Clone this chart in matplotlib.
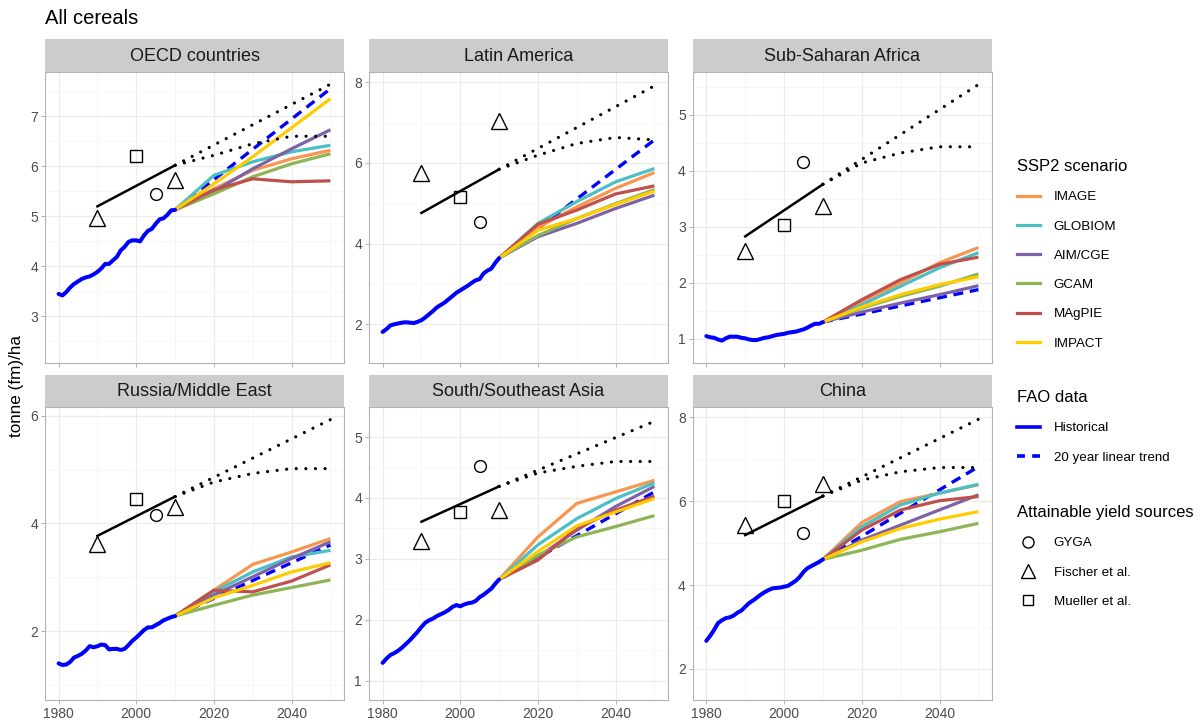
import matplotlib
matplotlib.use("Agg")
import matplotlib.pyplot as plt
from matplotlib.lines import Line2D
from matplotlib.ticker import MultipleLocator, FixedLocator
import numpy as np

plt.rcParams['font.family'] = ['Liberation Sans', 'DejaVu Sans']

# ---------------- data ----------------
regions = ["OECD countries", "Latin America", "Sub-Saharan Africa",
           "Russia/Middle East", "South/Southeast Asia", "China"]

hist_years = list(range(1980, 2011))
hist_oecd = [3.45, 3.42, 3.49, 3.58, 3.65, 3.70, 3.75, 3.78, 3.80, 3.84, 3.89, 3.96, 4.05, 4.05, 4.12, 4.19,
             4.32, 4.39, 4.49, 4.52, 4.52, 4.50, 4.62, 4.71, 4.75, 4.85, 4.94, 4.96, 5.03, 5.12, 5.13]
hist_latam = [1.81, 1.88, 1.97, 2.00, 2.02, 2.04, 2.05, 2.04, 2.03, 2.06, 2.10, 2.17, 2.25, 2.33, 2.42, 2.48,
              2.54, 2.62, 2.70, 2.78, 2.84, 2.90, 2.96, 3.03, 3.09, 3.12, 3.26, 3.33, 3.38, 3.52, 3.64]
hist_ssa = [1.05, 1.03, 1.02, 0.99, 0.97, 1.01, 1.04, 1.04, 1.04, 1.02, 1.01, 0.99, 0.98, 0.98, 1.00, 1.02,
            1.03, 1.05, 1.07, 1.08, 1.09, 1.11, 1.12, 1.13, 1.15, 1.17, 1.20, 1.24, 1.27, 1.27, 1.30]
hist_rme = [1.40, 1.37, 1.38, 1.43, 1.51, 1.54, 1.58, 1.64, 1.72, 1.70, 1.72, 1.75, 1.74, 1.66, 1.67, 1.67,
            1.65, 1.67, 1.74, 1.82, 1.88, 1.95, 2.02, 2.07, 2.07, 2.11, 2.15, 2.20, 2.23, 2.26, 2.28]
hist_ssea = [1.29, 1.36, 1.42, 1.45, 1.49, 1.54, 1.60, 1.66, 1.73, 1.80, 1.88, 1.95, 1.99, 2.02, 2.06, 2.09,
             2.12, 2.16, 2.21, 2.24, 2.22, 2.25, 2.27, 2.28, 2.31, 2.37, 2.41, 2.46, 2.51, 2.59, 2.66]
hist_china = [2.67, 2.79, 2.93, 3.09, 3.16, 3.21, 3.23, 3.27, 3.34, 3.39, 3.48, 3.57, 3.63, 3.70, 3.77, 3.83,
              3.88, 3.92, 3.93, 3.94, 3.96, 3.98, 4.04, 4.10, 4.19, 4.31, 4.40, 4.45, 4.50, 4.55, 4.61]
hist_all = [hist_oecd, hist_latam, hist_ssa, hist_rme, hist_ssea, hist_china]

# 20-year linear trend (2010 -> 2050)
trend_years = [2010, 2050]
trend_end = [7.55, 6.57, 1.88, 3.60, 4.10, 6.82]

# SSP2 model projections, years 2010..2050
model_years = [2010, 2020, 2030, 2040, 2050]
models = ["IMAGE", "GLOBIOM", "AIM/CGE", "GCAM", "MAgPIE", "IMPACT"]
model_colors = ["#F8964F", "#4BBFC4", "#7E62A8", "#8DB556", "#C0504D", "#FFCC00"]
image_vals = [[5.13, 5.55, 5.92, 6.15, 6.32], [3.64, 4.40, 4.91, 5.37, 5.76], [1.30, 1.67, 2.00, 2.36, 2.63],
              [2.28, 2.76, 3.24, 3.47, 3.72], [2.66, 3.36, 3.91, 4.10, 4.29], [4.61, 5.49, 5.99, 6.19, 6.39]]
globiom_vals = [[5.13, 5.82, 6.09, 6.29, 6.42], [3.64, 4.50, 5.04, 5.53, 5.86], [1.30, 1.61, 1.94, 2.27, 2.54],
                [2.28, 2.73, 3.10, 3.38, 3.50], [2.66, 3.23, 3.66, 3.99, 4.25], [4.61, 5.39, 5.91, 6.19, 6.40]]
aim_vals = [[5.13, 5.50, 5.95, 6.35, 6.73], [3.64, 4.17, 4.50, 4.87, 5.20], [1.30, 1.48, 1.64, 1.79, 1.95],
            [2.28, 2.67, 3.01, 3.35, 3.66], [2.66, 3.03, 3.47, 3.86, 4.19], [4.61, 5.07, 5.43, 5.79, 6.15]]
gcam_vals = [[5.13, 5.45, 5.79, 6.05, 6.25], [3.64, 4.20, 4.62, 4.99, 5.34], [1.30, 1.55, 1.76, 1.94, 2.16],
             [2.28, 2.48, 2.67, 2.81, 2.95], [2.66, 3.06, 3.36, 3.53, 3.71], [4.61, 4.83, 5.09, 5.27, 5.47]]
magpie_vals = [[5.13, 5.53, 5.75, 5.69, 5.71], [3.64, 4.48, 4.83, 5.23, 5.43], [1.30, 1.70, 2.06, 2.33, 2.46],
               [2.28, 2.76, 2.73, 2.93, 3.23], [2.66, 2.98, 3.50, 3.80, 4.03], [4.61, 5.31, 5.79, 6.01, 6.11]]
impact_vals = [[5.13, 5.65, 6.19, 6.77, 7.35], [3.64, 4.33, 4.62, 4.97, 5.30], [1.30, 1.57, 1.79, 1.97, 2.11],
               [2.28, 2.62, 2.85, 3.10, 3.27], [2.66, 3.12, 3.54, 3.77, 3.99], [4.61, 5.03, 5.35, 5.57, 5.75]]
model_vals = [image_vals, globiom_vals, aim_vals, gcam_vals, magpie_vals, impact_vals]

# attainable yield: fitted line 1990-2010 and extrapolations 2010-2050
fit_years = [1990, 2010]
fit_1990 = [5.20, 4.76, 2.83, 3.77, 3.61, 5.19]
fit_2010 = [6.02, 5.84, 3.76, 4.50, 4.19, 6.12]
linear_2050 = [7.64, 7.91, 5.54, 5.93, 5.26, 7.95]
sat_years = [2010, 2020, 2030, 2040, 2050]
sat_vals = [[6.02, 6.22, 6.45, 6.60, 6.60], [5.84, 6.19, 6.48, 6.63, 6.57], [3.76, 4.14, 4.32, 4.43, 4.43],
            [4.50, 4.77, 4.93, 5.02, 5.02], [4.19, 4.41, 4.52, 4.60, 4.60], [6.12, 6.50, 6.70, 6.80, 6.80]]

# attainable yield sources
gyga_year = 2005
gyga_vals = [5.45, 4.54, 4.15, 4.15, 4.52, 5.23]
fischer_years = [1990, 2010]
fischer_vals = [[4.97, 5.73], [5.76, 7.05], [2.57, 3.38], [3.62, 4.31], [3.30, 3.81], [5.43, 6.41]]
mueller_year = 2000
mueller_vals = [6.20, 5.16, 3.04, 4.45, 3.77, 6.01]

ylims = [(2.07, 7.89), (1.04, 8.26), (0.57, 5.77), (0.72, 6.17), (0.68, 5.50), (1.26, 8.25)]
ymajor = [1, 2, 1, 2, 1, 2]

# ---------------- figure ----------------
W, H = 1204, 722
fig = plt.figure(figsize=(W / 100, H / 100), dpi=100)

cols = [(45, 344), (369, 668), (692.7, 992)]
rows = [(39, 71.7, 363), (375, 406.7, 700)]

grid_major = "#EBEBEB"
grid_minor = "#F5F5F5"
border = "#B3B3B3"
tick_col = "#4D4D4D"

dot_style = (0, (0.01, 3.0))

for i, reg in enumerate(regions):
    r, c = divmod(i, 3)
    x0, x1 = cols[c]
    st, pt, pb = rows[r]
    ax = fig.add_axes([x0 / W, 1 - pb / H, (x1 - x0) / W, (pb - pt) / H])
    sax = fig.add_axes([x0 / W, 1 - pt / H, (x1 - x0) / W, (pt - st) / H])
    sax.set_facecolor("#CCCCCC")
    sax.set_xticks([]); sax.set_yticks([])
    for s in sax.spines.values():
        s.set_visible(False)
    sax.text(0.5, 0.47, reg, ha="center", va="center", fontsize=13, color="#1A1A1A",
             transform=sax.transAxes)

    ax.set_xlim(1976.5, 2053.5)
    ax.set_ylim(*ylims[i])
    ax.xaxis.set_major_locator(FixedLocator([1980, 2000, 2020, 2040]))
    ax.xaxis.set_minor_locator(FixedLocator([1990, 2010, 2030, 2050]))
    ax.yaxis.set_major_locator(MultipleLocator(ymajor[i]))
    ax.yaxis.set_minor_locator(MultipleLocator(ymajor[i] / 2))
    ax.grid(True, which="major", color=grid_major, lw=0.9, zorder=0)
    ax.grid(True, which="minor", color=grid_minor, lw=0.6, zorder=0)
    ax.set_axisbelow(True)
    for s in ax.spines.values():
        s.set_color(border); s.set_linewidth(0.8)
    ax.tick_params(which="major", length=3, width=0.7, color=border, labelsize=10,
                   labelcolor=tick_col, pad=2)
    ax.tick_params(which="minor", length=0)
    if r == 0:
        ax.tick_params(axis="x", labelbottom=False)

    # trend (under models)
    ax.plot(trend_years, [hist_all[i][-1], trend_end[i]], color="#0000FF", lw=2.4,
            linestyle=(0, (3, 2)), zorder=3)
    # models
    for m in range(len(models)):
        ax.plot(model_years, model_vals[m][i], color=model_colors[m], lw=2.3, zorder=4,
                solid_capstyle="butt")
    # historical
    ax.plot(hist_years, hist_all[i], color="#0000FF", lw=2.9, zorder=5, solid_capstyle="round")
    # attainable yield fit
    ax.plot(fit_years, [fit_1990[i], fit_2010[i]], color="black", lw=1.8, zorder=5)
    ax.plot([2010, 2050], [fit_2010[i], linear_2050[i]], color="black", lw=2.3,
            linestyle=dot_style, dash_capstyle="round", zorder=5)
    ax.plot(sat_years, sat_vals[i], color="black", lw=2.3,
            linestyle=dot_style, dash_capstyle="round", zorder=5)
    # markers
    mk = dict(mfc="none", mec="black", mew=1.0, linestyle="none", zorder=6)
    ax.plot([gyga_year], [gyga_vals[i]], marker="o", ms=8.5, **mk)
    ax.plot(fischer_years, fischer_vals[i], marker="^", ms=11, **mk)
    ax.plot([mueller_year], [mueller_vals[i]], marker="s", ms=8, **mk)

fig.text(45 / W, 1 - 19 / H, "All cereals", fontsize=14.5, ha="left", va="center", color="black")
fig.text(17 / W, 1 - 386 / H, "tonne (fm)/ha", fontsize=12.3, rotation=90, ha="center", va="center")

# ---------------- legends ----------------
leg_kw = dict(frameon=False, fontsize=9.6, title_fontsize=12, alignment="left",
              handlelength=1.7, handletextpad=1.05, labelspacing=1.27, borderpad=0,
              borderaxespad=0, loc="upper left")
h1 = [Line2D([], [], color=col, lw=2.3) for col in model_colors]
l1 = fig.legend(h1, models, title="SSP2 scenario",
                bbox_to_anchor=(1017 / W, 1 - 159 / H), **leg_kw)
h2 = [Line2D([], [], color="#0000FF", lw=2.6),
      Line2D([], [], color="#0000FF", lw=2.6, linestyle=(0, (2.2, 2)))]
l2 = fig.legend(h2, ["Historical", "20 year linear trend"], title="FAO data",
                bbox_to_anchor=(1017 / W, 1 - 390 / H), **leg_kw)
mk2 = dict(mfc="none", mec="black", mew=1.0, linestyle="none", color="black")
h3 = [Line2D([], [], marker="o", ms=8, **mk2),
      Line2D([], [], marker="^", ms=10, **mk2),
      Line2D([], [], marker="s", ms=7.5, **mk2)]
l3 = fig.legend(h3, ["GYGA", "Fischer et al.", "Mueller et al."], title="Attainable yield sources",
                bbox_to_anchor=(1017 / W, 1 - 505 / H), **leg_kw)
for lg in (l1, l2, l3):
    lg.get_title().set_color("black")
    lg._legend_box.align = "left"

fig.savefig("out.png", dpi=100)
